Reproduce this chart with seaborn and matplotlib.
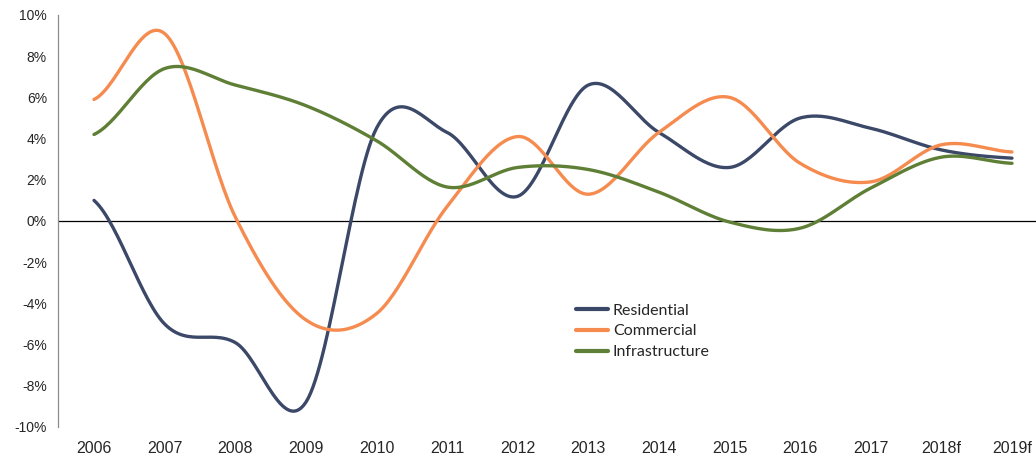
import numpy as np
import pandas as pd
import matplotlib
matplotlib.use("Agg")
import matplotlib.pyplot as plt
import seaborn as sns

years = ["2006", "2007", "2008", "2009", "2010", "2011", "2012", "2013",
         "2014", "2015", "2016", "2017", "2018f", "2019f"]
residential = [1.0, -5.0, -5.9, -8.8, 4.5, 4.3, 1.2, 6.6, 4.3, 2.6, 5.0, 4.5, 3.45, 3.05]
commercial = [5.9, 9.1, 0.2, -4.8, -4.5, 0.7, 4.1, 1.3, 4.3, 6.0, 2.8, 1.9, 3.7, 3.35]
infrastructure = [4.2, 7.4, 6.6, 5.6, 3.9, 1.65, 2.6, 2.5, 1.4, -0.05, -0.35, 1.6, 3.1, 2.8]

series = {"Residential": residential, "Commercial": commercial, "Infrastructure": infrastructure}
colors = {"Residential": "#3b4868", "Commercial": "#f58b4f", "Infrastructure": "#5e7f35"}


def smooth(vals, steps=30):
    # excel-style smoothed line (cubic hermite, catmull-rom tangents)
    y = np.asarray(vals, dtype=float)
    n = len(y)
    m = np.zeros(n)
    m[1:-1] = (y[2:] - y[:-2]) / 2
    m[0] = (y[1] - y[0]) / 2
    m[-1] = (y[-1] - y[-2]) / 2
    xs, ys = [], []
    t = np.linspace(0, 1, steps, endpoint=False)
    h00 = 2 * t**3 - 3 * t**2 + 1
    h10 = t**3 - 2 * t**2 + t
    h01 = -2 * t**3 + 3 * t**2
    h11 = t**3 - t**2
    for i in range(n - 1):
        xs.extend(i + t)
        ys.extend(h00 * y[i] + h10 * m[i] + h01 * y[i + 1] + h11 * m[i + 1])
    xs.append(n - 1)
    ys.append(y[-1])
    return np.array(xs), np.array(ys)


rows = []
for name, vals in series.items():
    sx, sy = smooth(vals)
    rows.append(pd.DataFrame({"x": sx, "y": sy, "series": name}))
df = pd.concat(rows, ignore_index=True)

sns.set_theme(style="white")
plt.rcParams["font.family"] = ["Liberation Sans", "DejaVu Sans"]

fig = plt.figure(figsize=(10.36, 4.58), dpi=100)
ax = fig.add_axes([58 / 1036, 1 - 427 / 458, 1 - 58 / 1036, (427 - 15) / 458])

sns.lineplot(data=df, x="x", y="y", hue="series", palette=colors, estimator=None,
             sort=False, linewidth=2.4, ax=ax)

ax.axhline(0, color="black", linewidth=0.9, zorder=1)
ax.set_xlim(-0.51, 13.34)
ax.set_ylim(-10, 10)
ax.set_xticks(range(len(years)))
ax.set_xticklabels(years, fontsize=11.5)
ax.set_yticks(range(-10, 11, 2))
ax.set_yticklabels([f"{v}%" for v in range(-10, 11, 2)], fontsize=10)
ax.tick_params(axis="x", length=0, pad=10)
ax.tick_params(axis="y", length=0, pad=8)
ax.set_xlabel("")
ax.set_ylabel("")
for s in ["top", "right", "bottom"]:
    ax.spines[s].set_visible(False)
ax.spines["left"].set_color("#8c8c8c")
ax.spines["left"].set_linewidth(0.9)

leg = ax.legend(loc="upper left", bbox_to_anchor=(0.515, 0.335), frameon=False,
                prop={"family": ["Lato", "DejaVu Sans"], "size": 11.5},
                handlelength=2.0, handletextpad=0.3, labelspacing=0.42)
for line in leg.get_lines():
    line.set_linewidth(3)

fig.savefig("out.png", dpi=100)
